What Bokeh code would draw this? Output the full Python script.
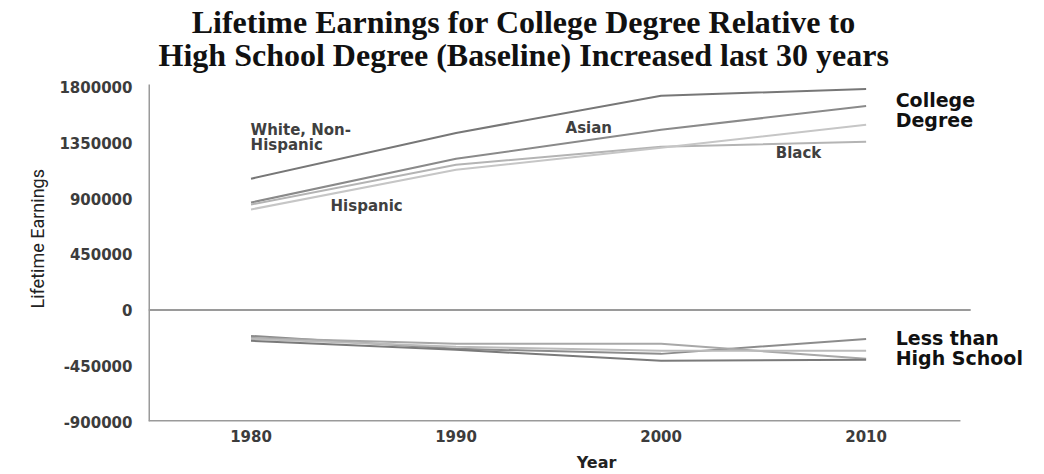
from bokeh.plotting import figure
from bokeh.models import Range1d, FixedTicker, Label, Title
from bokeh.embed import file_html
from bokeh.resources import INLINE

years = [1980, 1990, 2000, 2010]

# College degree (relative to high school baseline)
college_white = [1060000, 1430000, 1730000, 1785000]
college_asian = [868000, 1221000, 1455000, 1647000]
college_black = [852000, 1173000, 1318000, 1358000]
college_hispanic = [812000, 1133000, 1310000, 1495000]

# Less than high school
lths_a = [-209000, -313000, -354000, -233000]
lths_b = [-225000, -273000, -273000, -394000]
lths_c = [-233000, -297000, -329000, -329000]
lths_d = [-249000, -321000, -410000, -402000]

y_ticks = [-900000, -450000, 0, 450000, 900000, 1350000, 1800000]
y_tick_labels = ["-900000", "-450000", "0", "450000", "900000", "1350000", "1800000"]
x_ticks = [1980, 1990, 2000, 2010]

title_lines = ["Lifetime Earnings for College Degree Relative to",
               "High School Degree (Baseline) Increased last 30 years"]

X_START, X_END = 1975, 2018.7
AXIS_X_END = 2014.6
ZERO_X_END = 2015.1
Y_START, Y_AXIS_TOP = -900000, 1820000
Y_END = 2499000   # room above the axis for the title

p = figure(width=1044, height=474,
           x_range=Range1d(X_START, X_END), y_range=Range1d(Y_START, Y_END),
           output_backend="svg", toolbar_location=None,
           min_border_left=148, min_border_right=0,
           min_border_top=0, min_border_bottom=51)
p.outline_line_color = None
p.xgrid.visible = False
p.ygrid.visible = False
p.background_fill_color = "white"
p.border_fill_color = "white"

axis_col = "#9a9a9a"
for ax in (p.xaxis[0], p.yaxis[0]):
    ax.axis_line_color = None
    ax.major_tick_line_color = None
    ax.minor_tick_line_color = None
    ax.major_label_text_font = "DejaVu Sans"
    ax.major_label_text_font_style = "bold"
    ax.major_label_text_font_size = "15px"
    ax.major_label_text_color = "#3c3c3c"

p.yaxis.ticker = FixedTicker(ticks=y_ticks)
p.yaxis.major_label_overrides = {t: l for t, l in zip(y_ticks, y_tick_labels)}
p.yaxis.major_label_standoff = 10

p.xaxis.ticker = FixedTicker(ticks=x_ticks)
p.xaxis.major_label_standoff = 2
p.xaxis.axis_label = "Year"
p.xaxis.axis_label_text_font = "DejaVu Sans"
p.xaxis.axis_label_text_font_style = "bold"
p.xaxis.axis_label_text_font_size = "16px"
p.xaxis.axis_label_text_color = "#222222"
p.xaxis.axis_label_standoff = 8

ylab = Title(text="Lifetime Earnings", align="left", offset=113, standoff=18,
             text_font="Roboto", text_font_style="normal",
             text_font_size="18px", text_color="#222222")
p.add_layout(ylab, "left")

# axis lines and zero reference line
p.segment(x0=[X_START], y0=[Y_START], x1=[AXIS_X_END], y1=[Y_START],
          line_color=axis_col, line_width=3)
p.segment(x0=[X_START], y0=[Y_START], x1=[X_START], y1=[Y_AXIS_TOP],
          line_color=axis_col, line_width=3)
p.segment(x0=[X_START], y0=[0], x1=[ZERO_X_END], y1=[0],
          line_color=axis_col, line_width=2)

series = [
    (college_white, "#777777"),
    (college_asian, "#8a8a8a"),
    (college_black, "#b4b4b4"),
    (college_hispanic, "#c6c6c6"),
    (lths_a, "#8c8c8c"),
    (lths_b, "#a8a8a8"),
    (lths_c, "#bbbbbb"),
    (lths_d, "#7a7a7a"),
]
for vals, col in series:
    p.line(years, vals, line_color=col, line_width=2)

def lab(x, y, text, size="15px", color="#404040", font="DejaVu Sans", align="left"):
    p.add_layout(Label(x=x, y=y, text=text, text_font=font, text_font_style="bold",
                       text_font_size=size, text_color=color, text_align=align,
                       text_baseline="middle"))

lab(1979.98, 1454000, "White, Non-")
lab(1979.98, 1334000, "Hispanic")
lab(1995.34, 1471000, "Asian")
lab(1983.88, 836000, "Hispanic")
lab(2005.59, 1270000, "Black")
lab(2011.44, 1696000, "College", size="19px", color="#111111")
lab(2011.44, 1535000, "Degree", size="19px", color="#111111")
lab(2011.44, -225000, "Less than", size="19px", color="#111111")
lab(2011.44, -386000, "High School", size="19px", color="#111111")

lab(1993.3, 2322000, title_lines[0], size="32px", color="#111111",
    font="Liberation Serif", align="center")
lab(1993.3, 2057000, title_lines[1], size="32px", color="#111111",
    font="Liberation Serif", align="center")

open("out.html", "w").write(file_html(p, INLINE))
